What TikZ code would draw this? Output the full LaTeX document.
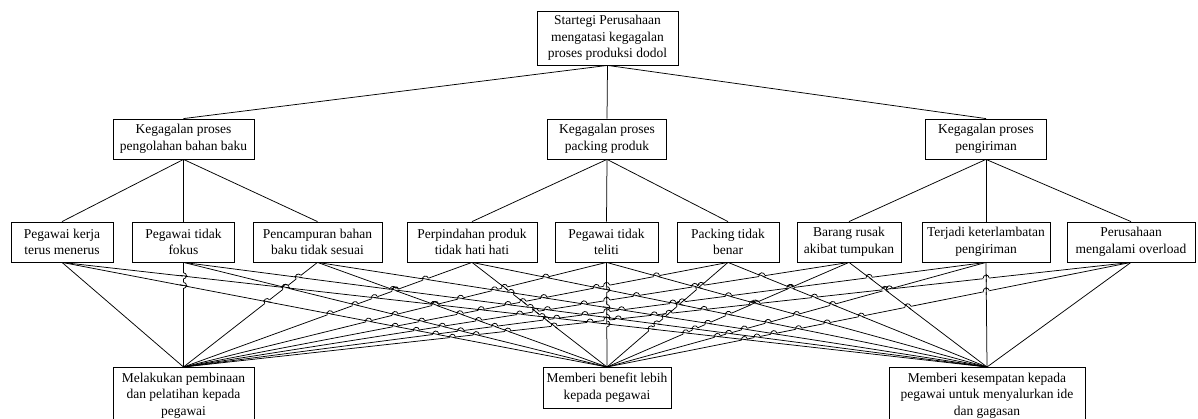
\documentclass[tikz,border=0pt]{standalone}
\usepackage{fontspec}
\setmainfont{Liberation Serif}
\begin{document}
\begin{tikzpicture}[x=1pt,y=-1pt,
  box/.style={draw,line width=0.8pt,align=center,inner sep=0pt,font=\fontsize{13.5}{16.5}\selectfont},
  conn/.style={line width=0.75pt},
  eraser/.style={white,line width=2pt}]
\useasboundingbox (0,0) rectangle (1198,419);
% level 1
\node[box,minimum width=141pt,minimum height=54pt] (top) at (607.5,38) {Startegi Perusahaan\\mengatasi kegagalan\\proses produksi dodol};
% level 2
\node[box,minimum width=141pt,minimum height=40pt] (k1) at (183.5,139) {Kegagalan proses\\pengolahan bahan baku};
\node[box,minimum width=119pt,minimum height=40pt] (k2) at (607,139) {Kegagalan proses\\packing produk};
\node[box,minimum width=121pt,minimum height=40pt] (k3) at (986,139) {Kegagalan proses\\pengiriman};
% level 3
\node[box,minimum width=102pt,minimum height=40pt] (p1) at (62,242) {Pegawai kerja\\terus menerus};
\node[box,minimum width=102pt,minimum height=40pt] (p2) at (183.5,242) {Pegawai tidak\\fokus};
\node[box,minimum width=129pt,minimum height=40pt] (p3) at (317.5,242) {Pencampuran bahan\\baku tidak sesuai};
\node[box,minimum width=130pt,minimum height=40pt] (p4) at (472,242) {Perpindahan produk\\tidak hati hati};
\node[box,minimum width=103pt,minimum height=40pt] (p5) at (606.5,242) {Pegawai tidak\\teliti};
\node[box,minimum width=102pt,minimum height=40pt] (p6) at (728,242) {Packing tidak\\benar};
\node[box,minimum width=104pt,minimum height=40pt] (p7) at (849,242) {Barang rusak\\akibat tumpukan};
\node[box,minimum width=128pt,minimum height=40pt] (p8) at (986,242) {Terjadi keterlambatan\\pengiriman};
\node[box,minimum width=128pt,minimum height=40pt] (p9) at (1131,242) {Perusahaan\\mengalami overload};
% level 4
\node[box,anchor=north,minimum width=141pt,minimum height=56pt] (s1) at (183.5,367) {Melakukan pembinaan\\dan pelatihan kepada\\pegawai};
\node[box,anchor=north,minimum width=128pt,minimum height=41pt] (s2) at (607,367) {Memberi benefit lebih\\kepada pegawai};
\node[box,anchor=north,minimum width=196pt,minimum height=56pt] (s3) at (987,367) {Memberi kesempatan kepada\\pegawai untuk menyalurkan ide\\dan gagasan};
% connectors
\foreach \k in {k1,k2,k3} \draw[conn] (top.south) -- (\k.north);
\foreach \p in {p1,p2,p3} \draw[conn] (k1.south) -- (\p.north);
\foreach \p in {p4,p5,p6} \draw[conn] (k2.south) -- (\p.north);
\foreach \p in {p7,p8,p9} \draw[conn] (k3.south) -- (\p.north);
\foreach \p in {p1,p2,p3,p4,p5,p6,p7,p8,p9}
  \foreach \s in {s1,s2,s3} \draw[conn] (\p.south) -- (\s.north);
% line jumps where connectors cross
\def\PX{{62,183.5,317.5,472,606.5,728,849,986,1131}}
\def\SX{{183.5,607,987}}
\def\ytop{262}\def\dyl{105}\def\hr{3}\def\kk{0.5523}
\foreach \j in {1,...,26}{
  \pgfmathtruncatemacro\pj{int(\j/3)}
  \pgfmathtruncatemacro\sj{mod(\j,3)}
  \pgfmathsetmacro\aj{\PX[\pj]}
  \pgfmathsetmacro\bj{\SX[\sj]}
  \pgfmathtruncatemacro\jm{\j-1}
  \foreach \i in {0,...,\jm}{
    \pgfmathtruncatemacro\pii{int(\i/3)}
    \pgfmathtruncatemacro\sii{mod(\i,3)}
    \pgfmathsetmacro\ai{\PX[\pii]}
    \pgfmathsetmacro\bi{\SX[\sii]}
    \pgfmathsetmacro\den{(\bi-\ai)-(\bj-\aj)}
    \pgfmathtruncatemacro\nz{abs(\den)>0.01}
    \ifnum\nz=1
      \pgfmathsetmacro\tpar{(\aj-\ai)/(\den)}
      \pgfmathtruncatemacro\ok{(\tpar>0.03)&&(\tpar<0.97)}
      \ifnum\ok=1
        \pgfmathsetmacro\px{\aj+(\tpar)*(\bj-\aj)}
        \pgfmathsetmacro\py{\ytop+(\tpar)*\dyl}
        \pgfmathsetmacro\dx{\bj-\aj}
        \pgfmathsetmacro\L{veclen(\dx,\dyl)}
        \pgfmathsetmacro\ux{(\dx)/\L}
        \pgfmathsetmacro\uy{\dyl/\L}
        \pgfmathsetmacro\sg{(\dx>=0) ? 1 : -1}
        \pgfmathsetmacro\nx{(\sg)*(\uy)}
        \pgfmathsetmacro\ny{-(\sg)*(\ux)}
        \pgfmathsetmacro\dxi{\bi-\ai}
        \pgfmathsetmacro\Li{veclen(\dxi,\dyl)}
        \pgfmathsetmacro\vx{(\dxi)/\Li}
        \pgfmathsetmacro\vy{\dyl/\Li}
        \pgfmathsetmacro\Sx{\px-\hr*(\ux)}
        \pgfmathsetmacro\Sy{\py-\hr*(\uy)}
        \pgfmathsetmacro\Ex{\px+\hr*(\ux)}
        \pgfmathsetmacro\Ey{\py+\hr*(\uy)}
        \pgfmathsetmacro\Tx{\px+\hr*(\nx)}
        \pgfmathsetmacro\Ty{\py+\hr*(\ny)}
        \pgfmathsetmacro\Ax{\Sx+\kk*\hr*(\nx)}
        \pgfmathsetmacro\Ay{\Sy+\kk*\hr*(\ny)}
        \pgfmathsetmacro\Bx{\Tx-\kk*\hr*(\ux)}
        \pgfmathsetmacro\By{\Ty-\kk*\hr*(\uy)}
        \pgfmathsetmacro\Cx{\Tx+\kk*\hr*(\ux)}
        \pgfmathsetmacro\Cy{\Ty+\kk*\hr*(\uy)}
        \pgfmathsetmacro\Dx{\Ex+\kk*\hr*(\nx)}
        \pgfmathsetmacro\Dy{\Ey+\kk*\hr*(\ny)}
        \pgfmathsetmacro\Fx{\px-4*(\vx)}
        \pgfmathsetmacro\Fy{\py-4*(\vy)}
        \pgfmathsetmacro\Gx{\px+4*(\vx)}
        \pgfmathsetmacro\Gy{\py+4*(\vy)}
        \draw[eraser] (\Sx,\Sy) -- (\Ex,\Ey);
        \draw[conn] (\Fx,\Fy) -- (\Gx,\Gy);
        \draw[conn] (\Sx,\Sy) .. controls (\Ax,\Ay) and (\Bx,\By) .. (\Tx,\Ty)
          .. controls (\Cx,\Cy) and (\Dx,\Dy) .. (\Ex,\Ey);
      \fi
    \fi
  }
}
\end{tikzpicture}
\end{document}
